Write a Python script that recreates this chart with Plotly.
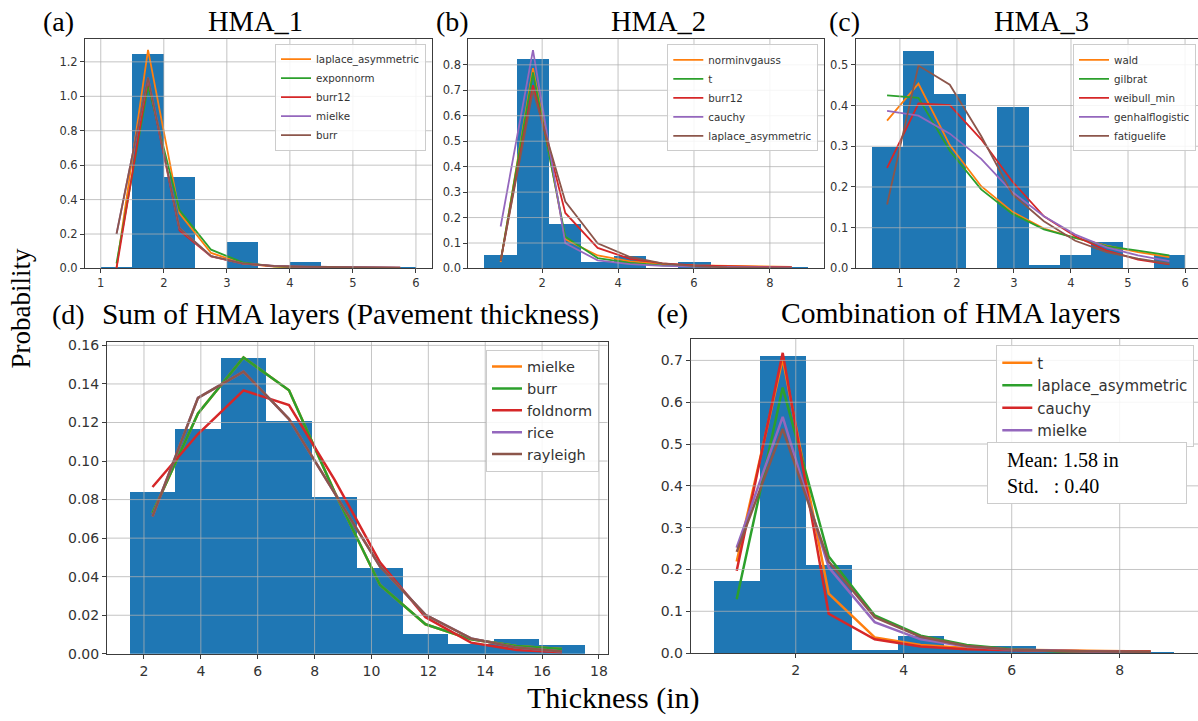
import plotly.graph_objects as go

W, H = 1198, 721

# ---------------- data ----------------
# (a) HMA_1
a_edges = [1.0, 1.5, 2.0, 2.5, 3.0, 3.5, 4.0, 4.5, 5.0, 5.5, 6.0]
a_hist = [0.012, 1.247, 0.533, 0.0, 0.156, 0.0, 0.038, 0.0, 0.0, 0.012]
a_names = ["laplace_asymmetric", "exponnorm", "burr12", "mielke", "burr"]
a_laplace_asymmetric = [0.005, 1.27, 0.32, 0.09, 0.03, 0.011, 0.005, 0.003, 0.002, 0.002]
a_exponnorm = [0.03, 1.06, 0.337, 0.109, 0.035, 0.012, 0.006, 0.004, 0.003, 0.003]
a_burr12 = [0.0, 1.10, 0.22, 0.07, 0.028, 0.014, 0.009, 0.007, 0.006, 0.005]
a_mielke = [0.2, 1.11, 0.234, 0.071, 0.029, 0.015, 0.010, 0.008, 0.006, 0.005]
a_burr = [0.2, 1.11, 0.234, 0.072, 0.029, 0.015, 0.010, 0.008, 0.006, 0.005]
a_xticks = [1, 2, 3, 4, 5, 6]
a_xlabels = ["1", "2", "3", "4", "5", "6"]
a_yticks = [0.0, 0.2, 0.4, 0.6, 0.8, 1.0, 1.2]
a_ylabels = ["0.0", "0.2", "0.4", "0.6", "0.8", "1.0", "1.2"]

# (b) HMA_2
b_edges = [0.48, 1.332, 2.184, 3.036, 3.888, 4.74, 5.592, 6.444, 7.296, 8.148, 9.0]
b_hist = [0.055, 0.825, 0.175, 0.025, 0.05, 0.0, 0.025, 0.0, 0.0, 0.008]
b_names = ["norminvgauss", "t", "burr12", "cauchy", "laplace_asymmetric"]
b_norminvgauss = [0.025, 0.787, 0.115, 0.051, 0.028, 0.017, 0.012, 0.009, 0.007, 0.006]
b_t = [0.03, 0.77, 0.125, 0.041, 0.022, 0.012, 0.008, 0.005, 0.004, 0.003]
b_burr12 = [0.03, 0.72, 0.218, 0.081, 0.038, 0.02, 0.012, 0.008, 0.006, 0.005]
b_cauchy = [0.165, 0.858, 0.099, 0.032, 0.017, 0.01, 0.007, 0.005, 0.004, 0.003]
b_laplace_asymmetric = [0.03, 0.70, 0.263, 0.099, 0.045, 0.02, 0.009, 0.004, 0.002, 0.001]
b_xticks = [2, 4, 6, 8]
b_xlabels = ["2", "4", "6", "8"]
b_yticks = [0.0, 0.1, 0.2, 0.3, 0.4, 0.5, 0.6, 0.7, 0.8]
b_ylabels = ["0.0", "0.1", "0.2", "0.3", "0.4", "0.5", "0.6", "0.7", "0.8"]

# (c) HMA_3
c_edges = [0.5, 1.05, 1.6, 2.15, 2.7, 3.25, 3.8, 4.35, 4.9, 5.45, 6.0]
c_hist = [0.299, 0.535, 0.429, 0.0, 0.396, 0.01, 0.034, 0.066, 0.0, 0.034]
c_names = ["wald", "gilbrat", "weibull_min", "genhalflogistic", "fatiguelife"]
c_wald = [0.363, 0.4535, 0.303, 0.202, 0.139, 0.098, 0.075, 0.056, 0.04, 0.028]
c_gilbrat = [0.425, 0.419, 0.289, 0.194, 0.134, 0.096, 0.075, 0.055, 0.044, 0.032]
c_weibull_min = [0.247, 0.405, 0.401, 0.317, 0.213, 0.128, 0.079, 0.044, 0.022, 0.01]
c_genhalflogistic = [0.387, 0.375, 0.331, 0.269, 0.187, 0.128, 0.083, 0.052, 0.032, 0.018]
c_fatiguelife = [0.157, 0.498, 0.451, 0.325, 0.182, 0.116, 0.068, 0.04, 0.024, 0.012]
c_xticks = [1, 2, 3, 4, 5, 6]
c_xlabels = ["1", "2", "3", "4", "5", "6"]
c_yticks = [0.0, 0.1, 0.2, 0.3, 0.4, 0.5]
c_ylabels = ["0.0", "0.1", "0.2", "0.3", "0.4", "0.5"]

# (d) Sum of HMA layers
d_edges = [1.5, 3.1, 4.7, 6.3, 7.9, 9.5, 11.1, 12.7, 14.3, 15.9, 17.5]
d_hist = [0.0839, 0.1167, 0.1535, 0.1209, 0.0815, 0.0445, 0.0100, 0.0049, 0.0076, 0.0046]
d_names = ["mielke", "burr", "foldnorm", "rice", "rayleigh"]
d_mielke = [0.073, 0.1247, 0.1537, 0.1367, 0.084, 0.0357, 0.0153, 0.0075, 0.004, 0.0025]
d_burr = [0.073, 0.1247, 0.1537, 0.1367, 0.084, 0.0357, 0.0153, 0.0075, 0.004, 0.0025]
d_foldnorm = [0.0865, 0.114, 0.1367, 0.129, 0.0904, 0.0474, 0.019, 0.0058, 0.002, 0.0008]
d_rice = [0.0712, 0.1328, 0.1464, 0.1218, 0.0835, 0.0453, 0.0202, 0.008, 0.0032, 0.0012]
d_rayleigh = [0.0712, 0.1328, 0.1464, 0.1218, 0.0835, 0.0453, 0.0202, 0.008, 0.0032, 0.0012]
d_xticks = [2, 4, 6, 8, 10, 12, 14, 16, 18]
d_xlabels = ["2", "4", "6", "8", "10", "12", "14", "16", "18"]
d_yticks = [0.0, 0.02, 0.04, 0.06, 0.08, 0.10, 0.12, 0.14, 0.16]
d_ylabels = ["0.00", "0.02", "0.04", "0.06", "0.08", "0.10", "0.12", "0.14", "0.16"]

# (e) Combination of HMA layers
e_edges = [0.48, 1.332, 2.184, 3.036, 3.888, 4.74, 5.592, 6.444, 7.296, 8.148, 9.0]
e_hist = [0.1736, 0.7117, 0.2112, 0.0078, 0.042, 0.009, 0.017, 0.004, 0.003, 0.004]
e_names = ["t", "laplace_asymmetric", "cauchy", "mielke", "burr12"]
e_t = [0.219, 0.704, 0.142, 0.0375, 0.0196, 0.012, 0.008, 0.006, 0.005, 0.004]
e_laplace_asymmetric = [0.129, 0.635, 0.231, 0.09, 0.0415, 0.0196, 0.009, 0.004, 0.002, 0.001]
e_cauchy = [0.197, 0.718, 0.094, 0.033, 0.0157, 0.009, 0.007, 0.005, 0.004, 0.004]
e_mielke = [0.252, 0.565, 0.205, 0.074, 0.033, 0.0157, 0.008, 0.005, 0.003, 0.002]
e_fifth = [0.242, 0.536, 0.219, 0.086, 0.039, 0.017, 0.008, 0.005, 0.004, 0.003]
e_xticks = [2, 4, 6, 8]
e_xlabels = ["2", "4", "6", "8"]
e_yticks = [0.0, 0.1, 0.2, 0.3, 0.4, 0.5, 0.6, 0.7]
e_ylabels = ["0.0", "0.1", "0.2", "0.3", "0.4", "0.5", "0.6", "0.7"]

stats_text = ["Mean: 1.58 in", "Std.\u00a0\u00a0\u00a0: 0.40"]

# ---------------- styling ----------------
COLORS = ["#ff7f0e", "#2ca02c", "#d62728", "#9467bd", "#8c564b"]
BAR = "#1f77b4"
SPINE = "#3c3c3c"
TICKC = "#333333"
GRIDC = "rgba(176,176,176,0.75)"
SERIF = "Liberation Serif"
SANS = "DejaVu Sans"


def fx(px):
    return px / W


def fy(py):
    return 1 - py / H


fig = go.Figure()
shapes = []

panels = [
    dict(edges=a_edges, hist=a_hist, names=a_names,
         series=[a_laplace_asymmetric, a_exponnorm, a_burr12, a_mielke, a_burr],
         xr=[0.75, 6.25], yr=[0, 1.3335], xt=a_xticks, xl=a_xlabels, yt=a_yticks, yl=a_ylabels,
         dx=[85, 431.7], dy=[34.5, 268.3], lw=1.8, fs=11.5, mirror_y=True, nleg=5,
         leg=dict(right=426, top=39.3, size=10.3)),
    dict(edges=b_edges, hist=b_hist, names=b_names,
         series=[b_norminvgauss, b_t, b_burr12, b_cauchy, b_laplace_asymmetric],
         xr=[0.054, 9.426], yr=[0, 0.902], xt=b_xticks, xl=b_xlabels, yt=b_yticks, yl=b_ylabels,
         dx=[468.3, 824], dy=[34.5, 268.3], lw=1.8, fs=11.5, mirror_y=True, nleg=5,
         leg=dict(right=818.3, top=40, size=10.3)),
    dict(edges=c_edges, hist=c_hist, names=c_names,
         series=[c_wald, c_gilbrat, c_weibull_min, c_genhalflogistic, c_fatiguelife],
         xr=[0.225, 6.227], yr=[0, 0.5636], xt=c_xticks, xl=c_xlabels, yt=c_yticks, yl=c_ylabels,
         dx=[855.7, 1198], dy=[34.5, 268.3], lw=1.8, fs=11.5, mirror_y=False, nleg=5,
         leg=dict(right=1196, top=40, size=10.3)),
    dict(edges=d_edges, hist=d_hist, names=d_names,
         series=[d_mielke, d_burr, d_foldnorm, d_rice, d_rayleigh],
         xr=[0.7, 18.3], yr=[0, 0.1617], xt=d_xticks, xl=d_xlabels, yt=d_yticks, yl=d_ylabels,
         dx=[107, 607.5], dy=[343.3, 660.7], lw=2.5, fs=14, mirror_y=True, nleg=5,
         leg=dict(right=599, top=351, size=14.5)),
    dict(edges=e_edges, hist=e_hist, names=e_names,
         series=[e_t, e_laplace_asymmetric, e_cauchy, e_mielke, e_fifth],
         xr=[0.054, 9.45], yr=[0, 0.7515], xt=e_xticks, xl=e_xlabels, yt=e_yticks, yl=e_ylabels,
         dx=[690.7, 1198], dy=[340, 660], lw=2.5, fs=14, mirror_y=False, nleg=4,
         leg=dict(right=1194.3, top=346.7, size=15)),
]

layout_axes = {}
legends = {}
for i, p in enumerate(panels, start=1):
    sx = "" if i == 1 else str(i)
    xa, ya = "x" + sx, "y" + sx
    leg_id = "legend" + sx
    edges = p["edges"]
    centers = [(edges[k] + edges[k + 1]) / 2 for k in range(len(edges) - 1)]
    widths = [edges[k + 1] - edges[k] for k in range(len(edges) - 1)]
    fig.add_trace(go.Bar(x=centers, y=p["hist"], width=widths, marker=dict(color=BAR, line=dict(width=0)),
                         xaxis=xa, yaxis=ya, showlegend=False, hoverinfo="skip"))
    for j, (name, vals, col) in enumerate(zip(p["names"], p["series"], COLORS)):
        fig.add_trace(go.Scatter(x=centers, y=vals, mode="lines", name=name,
                                 line=dict(color=col, width=p["lw"]),
                                 xaxis=xa, yaxis=ya, legend=leg_id,
                                 showlegend=j < p["nleg"]))
    tickfont = dict(family=SANS, size=p["fs"], color=TICKC)
    layout_axes["xaxis" + sx] = dict(
        domain=[fx(p["dx"][0]), fx(p["dx"][1])], range=p["xr"], anchor=ya,
        tickmode="array", tickvals=p["xt"], ticktext=p["xl"], tickfont=tickfont,
        showline=True, linecolor=SPINE, linewidth=1, mirror=True,
        ticks="outside", ticklen=4, tickwidth=1, tickcolor=SPINE,
        showgrid=False, zeroline=False, fixedrange=True)
    layout_axes["yaxis" + sx] = dict(
        domain=[fy(p["dy"][1]), fy(p["dy"][0])], range=p["yr"], anchor=xa,
        tickmode="array", tickvals=p["yt"], ticktext=p["yl"], tickfont=tickfont,
        showline=True, linecolor=SPINE, linewidth=1, mirror=p["mirror_y"],
        ticks="outside", ticklen=4, tickwidth=1, tickcolor=SPINE,
        showgrid=False, zeroline=False, fixedrange=True)
    # grid drawn above the bars (as in the matplotlib original)
    for v in p["xt"]:
        if p["xr"][0] < v < p["xr"][1]:
            shapes.append(dict(type="line", xref=xa, yref=ya + " domain", x0=v, x1=v, y0=0, y1=1,
                               line=dict(color=GRIDC, width=1), layer="above"))
    for v in p["yt"]:
        if p["yr"][0] < v < p["yr"][1]:
            shapes.append(dict(type="line", xref=xa + " domain", yref=ya, x0=0, x1=1, y0=v, y1=v,
                               line=dict(color=GRIDC, width=1), layer="above"))
    lg = p["leg"]
    legends[leg_id] = dict(x=fx(lg["right"]), y=fy(lg["top"]), xanchor="right", yanchor="top",
                           bgcolor="rgba(255,255,255,0.85)", bordercolor="#cccccc", borderwidth=1,
                           font=dict(family=SANS, size=lg["size"], color=TICKC),
                           itemwidth=30, tracegroupgap=0)

annotations = []


def txt(text, px, py, size, angle=0, xanchor="center"):
    annotations.append(dict(text=text, x=fx(px), y=fy(py), xref="paper", yref="paper",
                            xanchor=xanchor, yanchor="middle", showarrow=False, textangle=angle,
                            font=dict(family=SERIF, size=size, color="black")))


txt("(a)", 58, 17, 28)
txt("HMA_1", 255.5, 17, 28.5)
txt("(b)", 452, 17, 28)
txt("HMA_2", 658, 17, 28.5)
txt("(c)", 844, 17, 28)
txt("HMA_3", 1041, 17, 28.5)
txt("(d)", 68, 315, 28)
txt("Sum of HMA layers (Pavement thickness)", 350, 315, 29.4)
txt("(e)", 672.5, 314, 28)
txt("Combination of HMA layers", 950, 314, 29.6)
txt("Probability", 21, 309, 27, angle=-90)
txt("Thickness (in)", 613, 706, 30)

annotations.append(dict(
    text="\u00a0\u00a0\u00a0" + stats_text[0] + "<br>\u00a0\u00a0\u00a0" + stats_text[1],
    x=fx(1087.2), y=fy(477), xref="paper", yref="paper", xanchor="center", yanchor="middle",
    showarrow=False, align="left", width=190, height=52,
    bgcolor="white", bordercolor="#cccccc", borderwidth=1, borderpad=4,
    font=dict(family=SERIF, size=20, color="black")))

fig.update_layout(
    width=W, height=H, margin=dict(l=0, r=0, t=0, b=0),
    paper_bgcolor="white", plot_bgcolor="white",
    bargap=0, showlegend=True,
    shapes=shapes, annotations=annotations,
    **layout_axes, **legends)

fig.write_html("out.html")
